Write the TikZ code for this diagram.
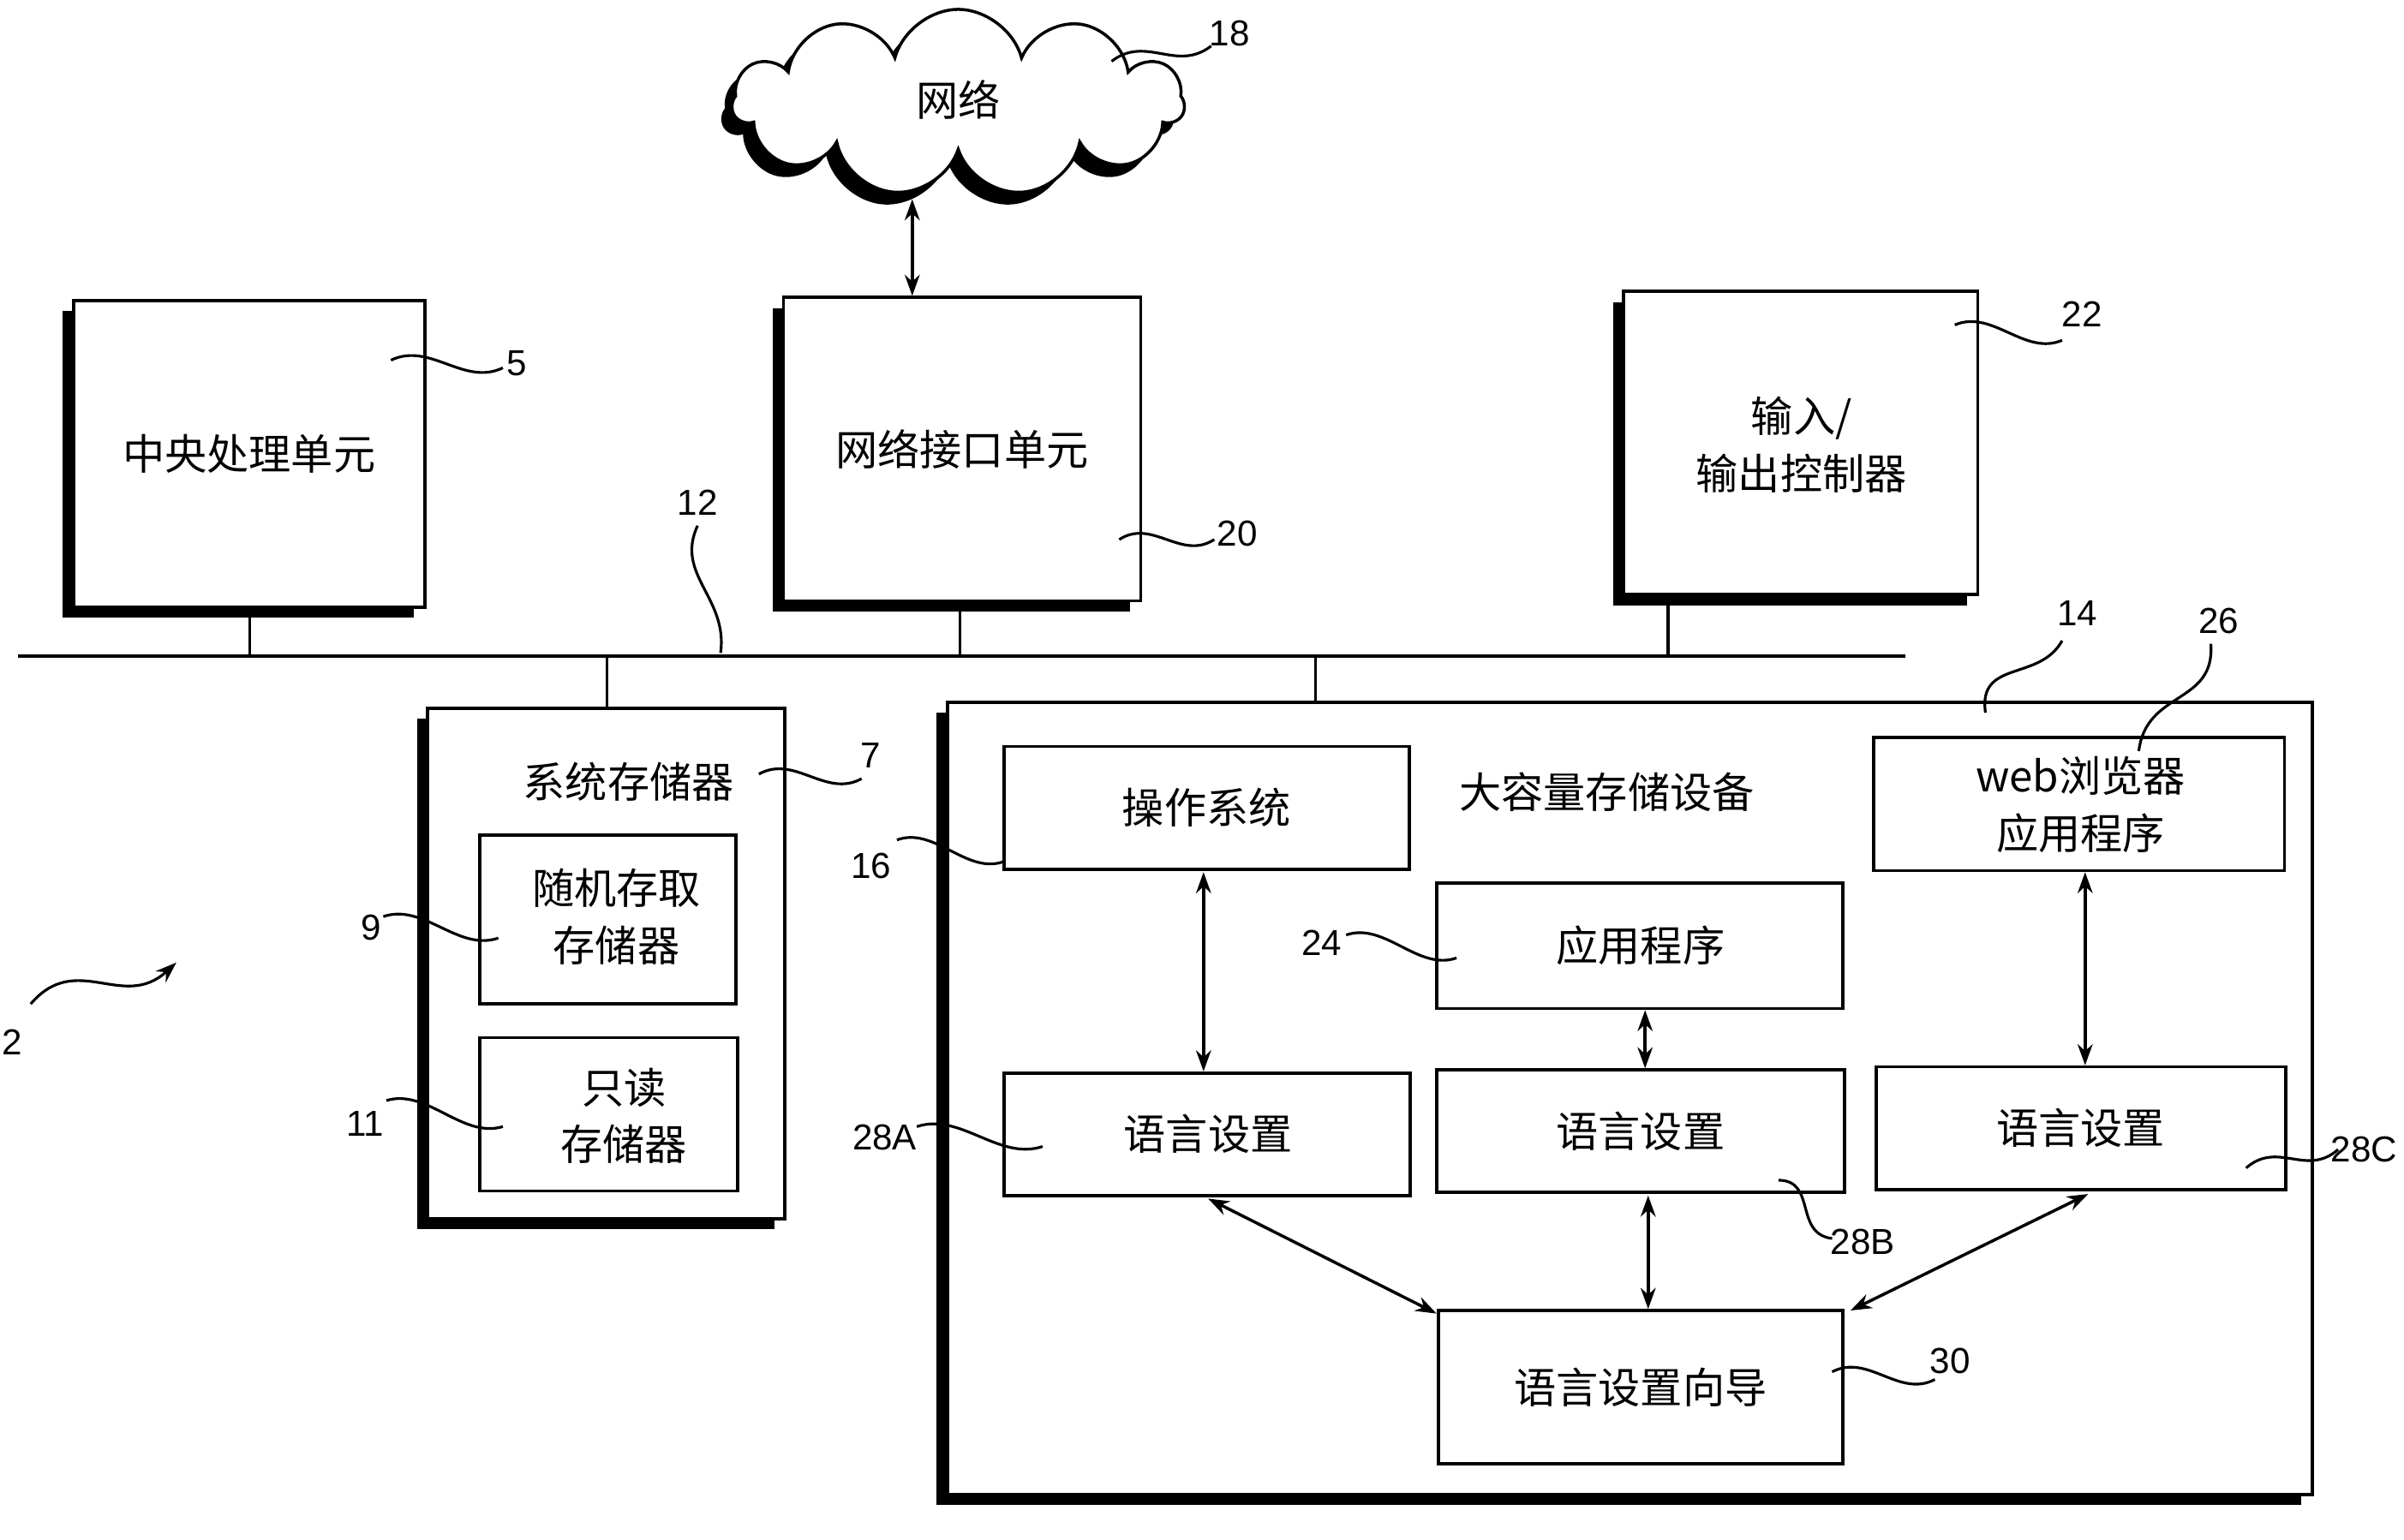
\documentclass[tikz,border=0pt]{standalone}
\usepackage{fontspec}
\setmainfont{Liberation Sans}
\newfontfamily\cjk{Noto Sans CJK SC}
\usetikzlibrary{shapes.symbols,calc,arrows.meta}
\begin{document}
\begin{tikzpicture}[x=0.0179cm,y=-0.0179cm,
  txt/.style={font=\cjk\fontsize{14}{19}\selectfont,align=center},
  num/.style={font=\fontsize{12}{13}\selectfont,inner sep=1pt},
  box/.style={draw,line width=1.1pt,fill=white},
  arr/.style={{Stealth[length=7pt,width=5pt]}-{Stealth[length=7pt,width=5pt]},line width=1pt},
  sq/.style={line width=0.9pt},
  cl/.style={cloud,cloud puffs=11,aspect=2.4,minimum width=150,minimum height=62,inner sep=0pt}]
\useasboundingbox (0,0) rectangle (1568,1004.5);
\newcommand\squig[2]{\draw[sq] (#1) .. controls ($(#1)!0.35!(#2)+(0,-14)$) and ($(#1)!0.65!(#2)+(0,14)$) .. (#2);}
\newcommand\shbox[5]{% name x1 y1 x2 y2
  \fill (#2-7,#3+7) rectangle (#4-7,#5+7);
  \draw[box] (#2,#3) rectangle (#4,#5);
  \coordinate (#1) at ({(#2+#4)/2},{(#3+#5)/2});}
% cloud
\node[cl,fill=black] at (618,75) {};
\node[cl,draw,line width=1pt,fill=white] (net) at (625,67) {};
\node[txt] at (625,65) {网络};
% boxes
\shbox{cpu}{48}{196}{277}{396}
\node[txt] at (cpu) {中央处理单元};
\shbox{niu}{511}{194}{744}{392}
\node[txt] at (niu) {网络接口单元};
\shbox{io}{1059}{190}{1290}{388}
\node[txt] at (1175,290) {输入/\\输出控制器};
\shbox{sm}{279}{462}{512}{795}
\node[txt] at (410,510) {系统存储器};
\draw[box] (313,545) rectangle (480,655); \node[txt] (ram) at (402,598) {随机存取\\存储器};
\draw[box] (313,677) rectangle (481,777); \node[txt] (rom) at (407,728) {只读\\存储器};
\shbox{ms}{618}{458}{1508}{975}
\node[txt] at (1048,517) {大容量存储设备};
\draw[box] (655,487) rectangle (919,567); \node[txt] (os) at (787,527) {操作系统};
\draw[box] (1222,481) rectangle (1490,568); \node[txt] (web) at (1357,525) {web浏览器\\应用程序};
\draw[box] (937,576) rectangle (1202,658); \node[txt] (app) at (1070,617) {应用程序};
\draw[box] (655,700) rectangle (920,780); \node[txt] (lsa) at (788,740) {语言设置};
\draw[box] (937,698) rectangle (1203,778); \node[txt] (lsb) at (1070,738) {语言设置};
\draw[box] (1224,696) rectangle (1491,776); \node[txt] (lsc) at (1357,736) {语言设置};
\draw[box] (938,855) rectangle (1202,955); \node[txt] (wiz) at (1070,905) {语言设置向导};
% bus
\coordinate (b0) at (12,428); \coordinate (b1) at (1243,428);
\draw[line width=1.1pt] (b0) -- (b1);
\draw[line width=1pt] (163,396) -- (163,428) (626,392) -- (626,428) (1088,388) -- (1088,428) (396,428) -- (396,462) (858,428) -- (858,458);
% arrows
\draw[arr] (595,130) -- (595,193);
\draw[arr] (785,569) -- (785,699);
\draw[arr] (1073,659) -- (1073,697);
\draw[arr] (1360,569) -- (1360,695);
\draw[arr] (788,782) -- (937,857);
\draw[arr] (1075,780) -- (1075,854);
\draw[arr] (1362,779) -- (1207,855);
% labels
\node[num] (l18) at (802,22) {18}; \squig{725,40}{790,30}
\node[num] (l5) at (337,237) {5}; \squig{255,235}{328,240}
\node[num] (l20) at (807,348) {20}; \squig{730,352}{792,352}
\node[num] (l22) at (1358,205) {22}; \squig{1275,212}{1345,222}
\node[num] (l12) at (455,328) {12}; \draw[sq] (470,426) .. controls (475,390) and (440,375) .. (455,343);
\node[num] (l7) at (568,493) {7}; \squig{495,505}{562,508}
\node[num] (l9) at (242,605) {9}; \squig{250,598}{325,612}
\node[num] (l11) at (238,733) {11}; \squig{252,718}{328,735}
\node[num] (l2) at (8,680) {2};
\draw[sq,-{Stealth[length=7pt,width=5pt]}] (20,655) .. controls (50,620) and (80,660) .. (115,628);
\node[num] (l14) at (1355,400) {14}; \draw[sq] (1295,465) .. controls (1290,430) and (1330,445) .. (1345,418);
\node[num] (l26) at (1447,405) {26}; \draw[sq] (1395,490) .. controls (1400,450) and (1445,460) .. (1442,420);
\node[num] (l16) at (568,565) {16}; \squig{585,548}{655,562}
\node[num] (l24) at (862,615) {24}; \squig{878,610}{950,625}
\node[num] (l28a) at (577,742) {28A}; \squig{598,735}{680,748}
\node[num] (l28b) at (1215,810) {28B}; \draw[sq] (1160,770) .. controls (1185,770) and (1170,805) .. (1195,808);
\node[num] (l28c) at (1542,750) {28C}; \squig{1465,762}{1525,750}
\node[num] (l30) at (1272,888) {30}; \squig{1195,895}{1262,900}
\end{tikzpicture}
\end{document}
